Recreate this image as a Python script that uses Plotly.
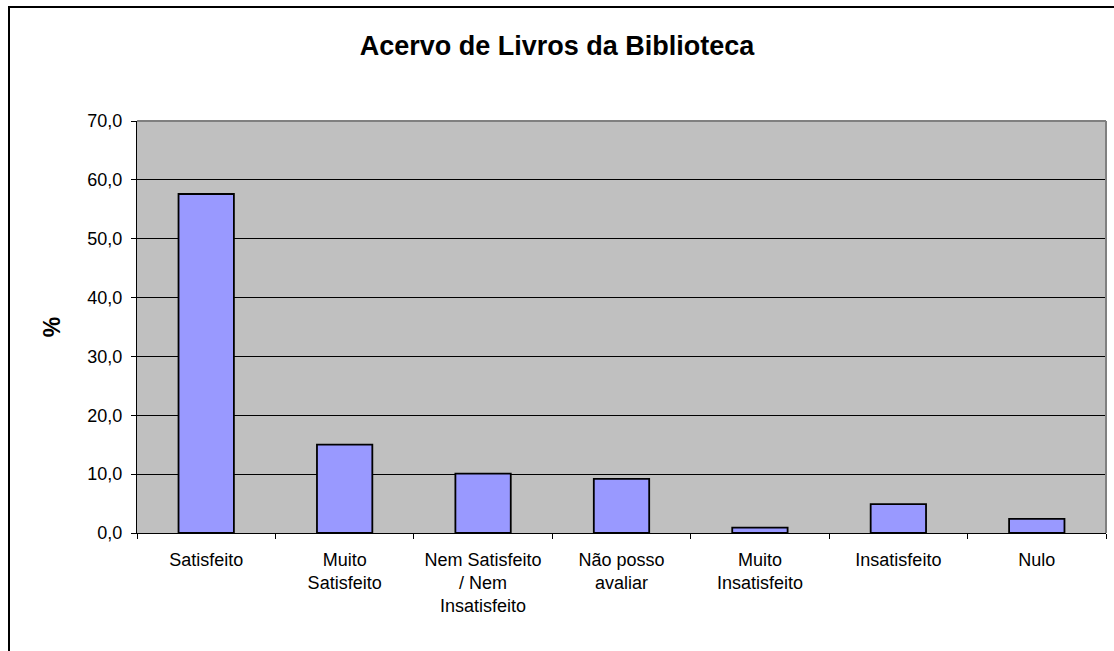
import plotly.graph_objects as go

categorias = [
    "Satisfeito",
    "Muito<br>Satisfeito",
    "Nem Satisfeito<br>/ Nem<br>Insatisfeito",
    "Não posso<br>avaliar",
    "Muito<br>Insatisfeito",
    "Insatisfeito",
    "Nulo",
]
percentuais = [57.6, 15.0, 10.1, 9.2, 0.9, 4.9, 2.4]
y_ticks = [0, 10, 20, 30, 40, 50, 60, 70]

fonte = "Liberation Sans, Arial, sans-serif"

fig = go.Figure()
fig.add_trace(go.Bar(
    x=categorias,
    y=percentuais,
    width=0.4,
    marker=dict(color="#9999FF", line=dict(color="black", width=1.8)),
))

fig.update_layout(
    width=1114,
    height=651,
    margin=dict(l=137, r=8, t=121, b=118),
    paper_bgcolor="white",
    plot_bgcolor="#C0C0C0",
    separators=",.",
    showlegend=False,
    title=dict(
        text="<b>Acervo de Livros da Biblioteca</b>",
        x=0.5, xanchor="center",
        y=1 - 46 / 651, yanchor="middle",
        font=dict(family=fonte, size=27, color="black"),
    ),
    font=dict(family=fonte, size=18, color="black"),
)

fig.update_xaxes(
    showgrid=False,
    showline=True, linecolor="black", linewidth=1,
    ticks="outside", tickson="boundaries", ticklen=5, tickcolor="black",
    tickfont=dict(size=18),
    ticklabelstandoff=10,
)
fig.update_yaxes(
    range=[0, 70],
    tickvals=y_ticks,
    tickformat=".1f",
    showgrid=True, gridcolor="black", gridwidth=1,
    showline=True, linecolor="black", linewidth=1,
    ticks="outside", ticklen=5, tickcolor="black",
    tickfont=dict(size=18),
    ticklabelstandoff=5,
    title=dict(text="<b>%</b>", font=dict(size=23), standoff=20),
    zeroline=False,
)

# borda cinza no topo e a direita da area do grafico
fig.add_shape(type="line", xref="paper", yref="paper", x0=0, x1=1, y0=1, y1=1,
              line=dict(color="#808080", width=2))
fig.add_shape(type="line", xref="paper", yref="paper", x0=1, x1=1, y0=0, y1=1,
              line=dict(color="#808080", width=2))

# moldura externa do grafico
fig.add_shape(type="rect", xref="paper", yref="paper",
              x0=-128 / 969, x1=1.05, y0=-0.5, y1=1 + 114 / 412,
              line=dict(color="black", width=2), layer="below")

fig.write_html("out.html", config={"displayModeBar": False},
               post_script="document.body.style.margin='0';")
